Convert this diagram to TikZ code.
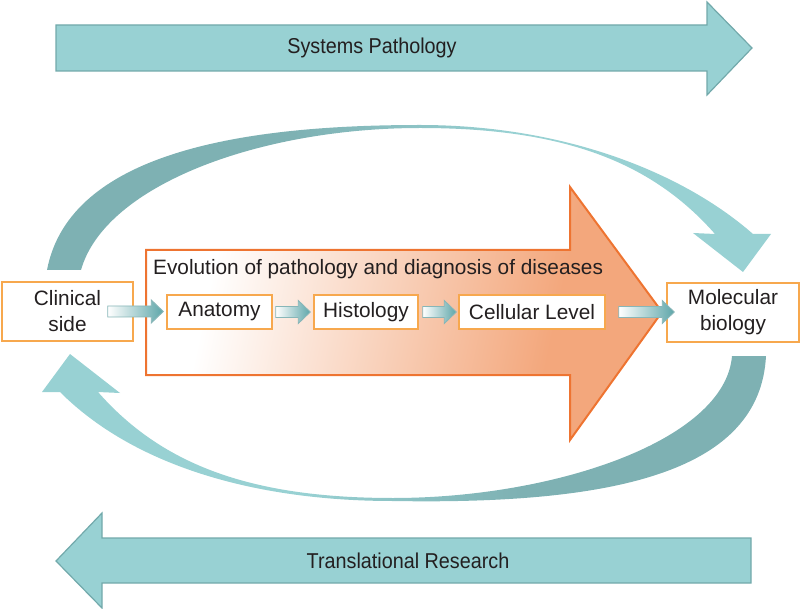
\documentclass[tikz,border=0pt]{standalone}
\usepackage{fontspec}
\setmainfont{Liberation Sans}
\newfontfamily\narrowfont[FakeStretch=0.92]{Liberation Sans}
\usetikzlibrary{calc}
\definecolor{tealL}{HTML}{98D1D3}
\definecolor{tealD}{HTML}{7EB1B3}
\definecolor{tealB}{HTML}{72A9AB}
\definecolor{tealS}{HTML}{5EA6A9}
\definecolor{orBorder}{HTML}{EE7431}
\definecolor{orBox}{HTML}{F7A84E}
\definecolor{orFill}{HTML}{F3A77C}
\definecolor{txt}{HTML}{231F20}
\pgfdeclarehorizontalshading{curveLR}{100bp}{color(0bp)=(tealD); color(42bp)=(tealD); color(57bp)=(tealL); color(100bp)=(tealL)}
\pgfdeclarehorizontalshading{curveRL}{100bp}{color(0bp)=(tealL); color(43bp)=(tealL); color(58bp)=(tealD); color(100bp)=(tealD)}
\pgfdeclarehorizontalshading{orangesh}{100bp}{color(0bp)=(white); color(29bp)=(white); color(66bp)=(orFill); color(100bp)=(orFill)}
\tikzset{
  bigarrow/.style={fill=tealL, draw=tealB, line width=1.2pt},
  box/.style={draw=orBox, line width=1.5pt, fill=white, text=txt,
    font=\fontsize{20.8}{26}\selectfont, inner sep=0pt, align=center},
  smallarrow/.style={draw=tealB!85, line width=0.9pt, left color=white, right color=tealS},
  lbl/.style={text=txt, font=\fontsize{20.8}{26}\selectfont, inner sep=0pt},
  bandlbl/.style={text=txt, font=\narrowfont\fontsize{21.5}{26}\selectfont, inner sep=0pt}
}
\newcommand\gradarrow[2]{\path[smallarrow] let \p1=(#1), \p2=(#2) in
  (\x1,\y1-5.5pt) -- (\x2-12pt,\y1-5.5pt) -- (\x2-12pt,\y1-11.5pt) -- (\x2,\y1)
  -- (\x2-12pt,\y1+11.5pt) -- (\x2-12pt,\y1+5.5pt) -- (\x1,\y1+5.5pt) -- cycle;}
\begin{document}
\begin{tikzpicture}[x=1pt,y=-1pt]
\useasboundingbox (0,0) rectangle (800,609);
% straight band arrows
\path[bigarrow] (56,25) -- (707,25) -- (707,2) -- (752,48) -- (707,95) -- (707,71) -- (56,71) -- cycle;
\node[bandlbl] (sp) at (372,48) {Systems Pathology};
\path[bigarrow] (751,538) -- (102,538) -- (102,513) -- (56,561) -- (102,608) -- (102,583) -- (751,583) -- cycle;
\node[bandlbl] (tr) at (408,561) {Translational Research};
% curved arrows
\path[shade, shading=curveLR] (47,270) .. controls (70,150) and (250,125) .. (420,125)
  .. controls (560,125) and (680,170) .. (753,234) -- (771,234) -- (743,272) -- (693,233) -- (715,234)
  .. controls (650,160) and (560,128) .. (420,128) .. controls (260,128) and (105,185) .. (81,270) -- cycle;
\path[shade, shading=curveRL] (766,356) .. controls (760,470) and (620,505) .. (393,501)
  .. controls (253,501) and (133,465) .. (60,392) -- (42,392) -- (70,354) -- (120,393) -- (98,392)
  .. controls (163,466) and (253,498) .. (393,498) .. controls (553,498) and (725,441) .. (732,356) -- cycle;
% big orange arrow
\path[shade, shading=orangesh, shading angle=-12, draw=orBorder, line width=2pt, line join=miter]
  (146,250) -- (570,250) -- (570,187) -- (662,312) -- (570,440) -- (570,375) -- (146,375) -- cycle;
\node[lbl, anchor=base west] (evo) at (153,275) {Evolution of pathology and diagnosis of diseases};
% boxes
\node[box, minimum width=131pt, minimum height=59pt] (clin) at (67.5,311.5) {Clinical\\side};
\node[box, minimum width=132pt, minimum height=59pt] (mol) at (733,312.5) {Molecular\\biology};
\node[box, minimum width=105pt, minimum height=34pt] (ana) at (219.5,312) {Anatomy};
\node[box, minimum width=104pt, minimum height=34pt] (his) at (366,312) {Histology};
\node[box, minimum width=146pt, minimum height=34pt] (cel) at (532,312) {Cellular Level};
% small gradient arrows
\gradarrow{$(clin.east)+(-26,0)$}{$(ana.west)+(-3,0)$}
\gradarrow{$(ana.east)+(3,0)$}{$(his.west)+(-3,0)$}
\gradarrow{$(his.east)+(4,0)$}{$(cel.west)+(-2,0)$}
\gradarrow{$(cel.east)+(13,0)$}{$(mol.west)+(8,0)$}
\end{tikzpicture}
\end{document}
